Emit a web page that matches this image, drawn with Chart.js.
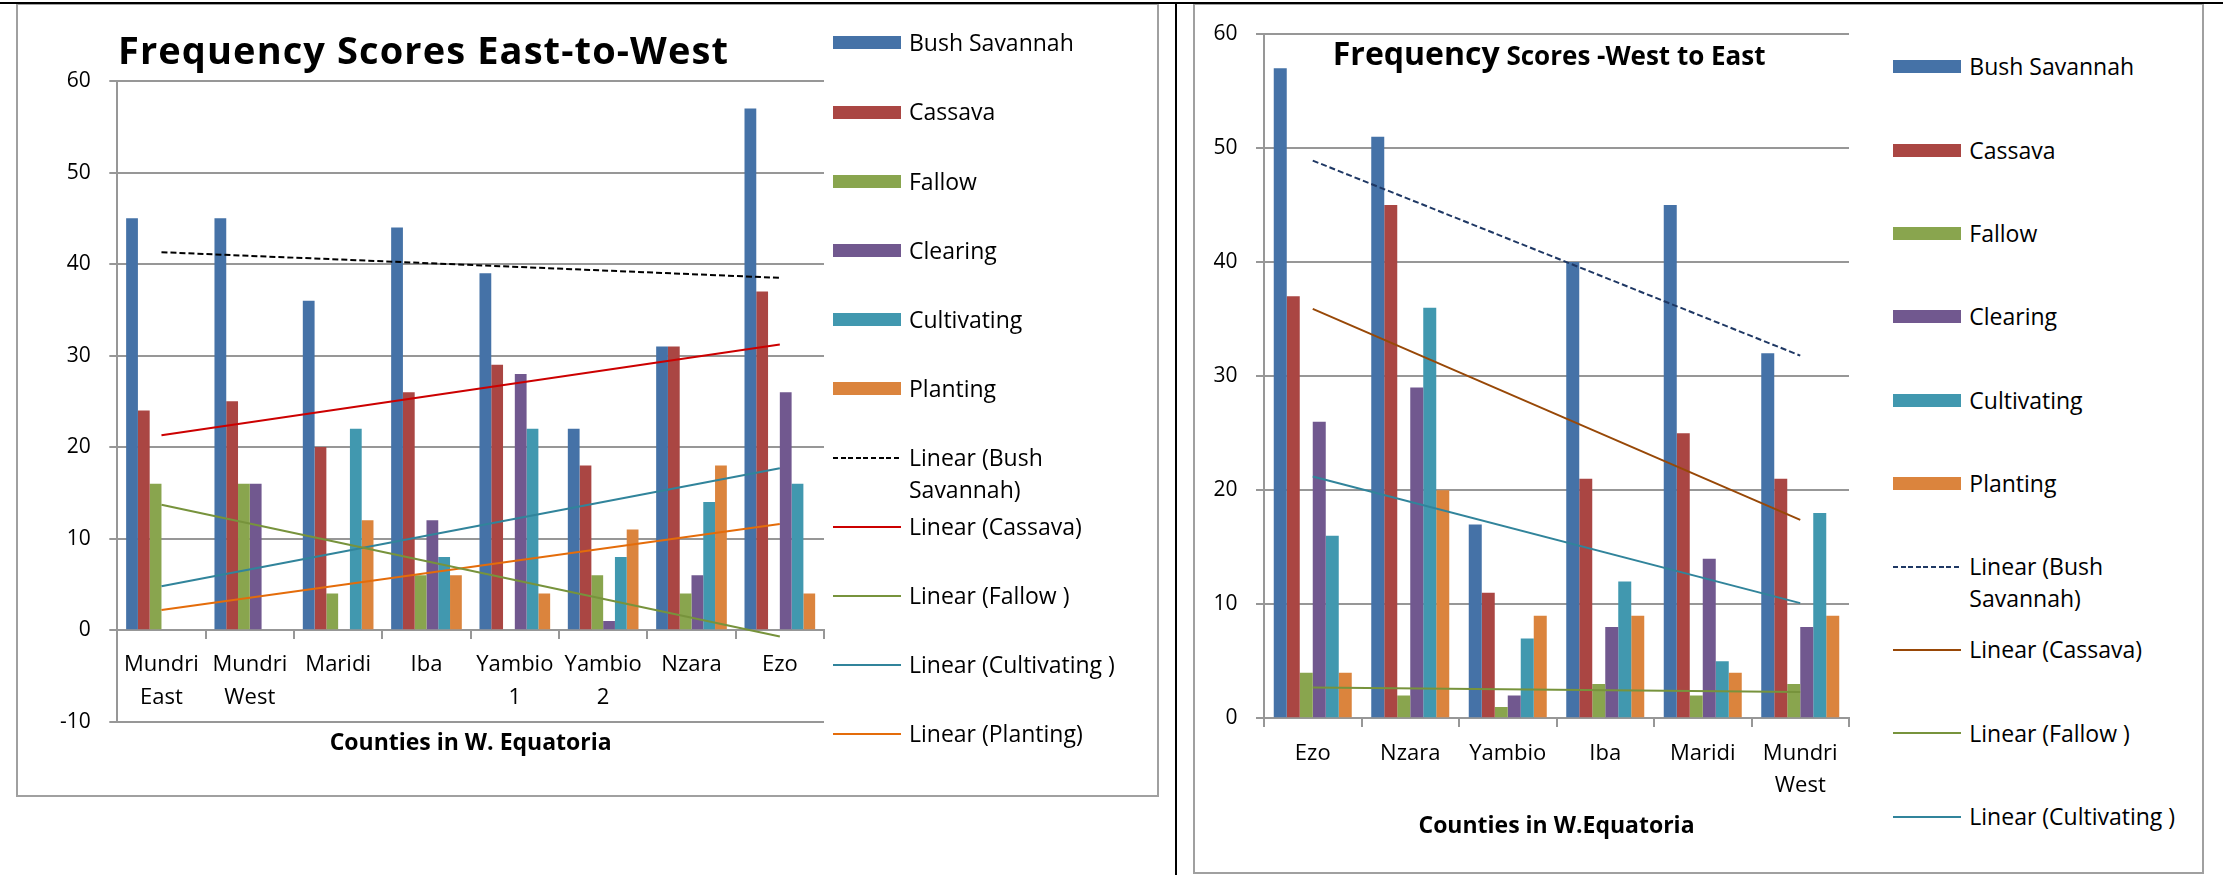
<!DOCTYPE html>
<html>
<head>
<meta charset="utf-8">
<script src="https://cdn.jsdelivr.net/npm/chart.js@4.4.1/dist/chart.umd.min.js"></script>
<style>
  html, body { margin: 0; padding: 0; background: #fff; }
  body { width: 2223px; height: 875px; position: relative; overflow: hidden; font-family: 'Open Sans', sans-serif; color: #000; }
  .abs { position: absolute; }
  .box { position: absolute; border: 2px solid #a0a0a0; box-sizing: border-box; }
  .cwrap { position: absolute; }
  .legend { position: absolute; top: 0; width: 330px; height: 875px; }
  .lrow { position: absolute; left: 0; width: 330px; height: 32px; }
  .sw { position: absolute; left: 0; width: 68px; }
  .lt { position: absolute; top: 0; width: 245px; font-size: 23px; line-height: 32px; white-space: normal; }
  .title { position: absolute; font-weight: bold; white-space: nowrap; }
</style>
</head>
<body>
<div class="box" id="boxL" style="left:15.7px; top:3px; width:1143.6px; height:794px;"></div>
<div class="box" id="boxR" style="left:1193px; top:3px; width:1011.3px; height:871.3px;"></div>

<div class="cwrap" style="left:0px; top:0px; width:840px; height:800px;"><canvas id="chartEW"></canvas></div>
<div class="cwrap" style="left:1195px; top:0px; width:665px; height:875px;"><canvas id="chartWE"></canvas></div>

<div class="title" style="left:118px; top:30px; font-size:38px; line-height:38px; letter-spacing:1.1px;">Frequency Scores East-to-West</div>
<div class="title" style="left:1332.8px; top:32.6px; font-size:32px; line-height:40px;"><span>Frequency</span><span style="font-size:26px;"> Scores -West to East</span></div>

<div class="legend" id="legendEW" style="left:832.7px;"></div>
<div class="legend" id="legendWE" style="left:1893.3px;"></div>

<div class="abs" style="left:0; top:2px; width:2223px; height:2px; background:#000;"></div>
<div class="abs" style="left:1174.5px; top:2px; width:2.5px; height:873px; background:#000;"></div>

<script>
// ---------------- DATA: Frequency Scores East-to-West ----------------
const ewCounties = [['Mundri', 'East'], ['Mundri', 'West'], 'Maridi', 'Iba', ['Yambio', '1'], ['Yambio', '2'], 'Nzara', 'Ezo'];
const ewBushSavannah = [45, 45, 36, 44, 39, 22, 31, 57];
const ewCassava      = [24, 25, 20, 26, 29, 18, 31, 37];
const ewFallow       = [16, 16, 4, 6, 0, 6, 4, 0];
const ewClearing     = [0, 16, 0, 12, 28, 1, 6, 26];
const ewCultivating  = [0, 0, 22, 8, 22, 8, 14, 16];
const ewPlanting     = [0, 0, 12, 6, 4, 11, 18, 4];
// trendline end values (first county, last county)
const ewTrendBushSavannah = [41.3, 38.5];
const ewTrendCassava      = [21.3, 31.2];
const ewTrendFallow       = [13.7, -0.7];
const ewTrendCultivating  = [4.8, 17.7];
const ewTrendPlanting     = [2.2, 11.6];
const ewYTicks = [-10, 0, 10, 20, 30, 40, 50, 60];

// ---------------- DATA: Frequency Scores West to East ----------------
const weCounties = ['Ezo', 'Nzara', 'Yambio', 'Iba', 'Maridi', ['Mundri', 'West']];
const weBushSavannah = [57, 51, 17, 40, 45, 32];
const weCassava      = [37, 45, 11, 21, 25, 21];
const weFallow       = [4, 2, 1, 3, 2, 3];
const weClearing     = [26, 29, 2, 8, 14, 8];
const weCultivating  = [16, 36, 7, 12, 5, 18];
const wePlanting     = [4, 20, 9, 9, 4, 9];
const weTrendBushSavannah = [48.9, 31.8];
const weTrendCassava      = [35.9, 17.4];
const weTrendFallow       = [2.7, 2.3];
const weTrendCultivating  = [21.2, 10.1];
const weYTicks = [0, 10, 20, 30, 40, 50, 60];

const seriesNames = ['Bush Savannah', 'Cassava', 'Fallow', 'Clearing', 'Cultivating', 'Planting'];
const trendNames = ['Linear (Bush Savannah)', 'Linear (Cassava)', 'Linear (Fallow )', 'Linear (Cultivating )', 'Linear (Planting)'];

// ---------------- STYLE ----------------
const barColors = ['#4572A7', '#AA4643', '#89A54E', '#71588F', '#4198AF', '#DB843D'];
const GRID = '#979797';
Chart.defaults.font.family = "'Open Sans', sans-serif";
Chart.defaults.color = '#000';

function endpoints(n, pair) {
  const arr = new Array(n).fill(null);
  arr[0] = pair[0];
  arr[n - 1] = pair[1];
  return arr;
}

function buildChart(id, cfg) {
  const n = cfg.labels.length;
  const datasets = [];
  cfg.bars.forEach((vals, i) => datasets.push({
    type: 'bar', label: seriesNames[i], data: vals, backgroundColor: barColors[i],
    borderWidth: 0, categoryPercentage: 0.8, barPercentage: 1.0, order: 2
  }));
  cfg.trends.forEach(t => datasets.push({
    type: 'line', label: t.label, data: endpoints(n, t.data), borderColor: t.color, backgroundColor: t.color,
    borderWidth: 2, borderDash: t.dash || [], pointRadius: 0, spanGaps: true, fill: false, tension: 0, order: 1
  }));
  return new Chart(document.getElementById(id), {
    type: 'bar',
    data: { labels: cfg.labels, datasets },
    options: {
      responsive: true, maintainAspectRatio: false, animation: false, events: [],
      layout: { padding: cfg.padding },
      plugins: { legend: { display: false }, title: { display: false }, tooltip: { enabled: false } },
      scales: {
        x: {
          position: { y: 0 }, offset: true,
          grid: { display: true, drawOnChartArea: false, drawTicks: true, tickLength: 8, color: GRID, lineWidth: 2, offset: true },
          border: { display: true, color: GRID, width: 2 },
          ticks: { font: { size: 22, lineHeight: '32.7px' }, padding: 10.65, maxRotation: 0, minRotation: 0, autoSkip: false, color: '#000' },
          title: { display: true, text: cfg.xTitle, font: { size: 23, weight: 'bold' }, padding: 0, color: '#000' },
          afterFit: s => { s.height = cfg.xAxisHeight; }
        },
        y: {
          min: cfg.yTicks[0], max: cfg.yTicks[cfg.yTicks.length - 1],
          afterBuildTicks: s => { s.ticks = cfg.yTicks.map(v => ({ value: v })); },
          grid: { color: GRID, lineWidth: 2, tickLength: 8 },
          border: { display: true, color: GRID, width: 2 },
          ticks: { font: { size: 21 }, padding: 18.6, color: '#000' },
          afterFit: s => { s.width = cfg.yAxisWidth; }
        }
      }
    }
  });
}

function buildLegend(chart, elId, rowStart, rowStep, textOffset) {
  const el = document.getElementById(elId);
  chart.data.datasets.forEach((ds, i) => {
    const row = document.createElement('div');
    row.className = 'lrow';
    row.style.top = (rowStart + rowStep * i - 16.7) + 'px';
    const sw = document.createElement('div');
    sw.className = 'sw';
    if (ds.type === 'line') {
      sw.style.top = '15.7px';
      sw.style.height = '2px';
      sw.style.background = (ds.borderDash && ds.borderDash.length)
        ? 'repeating-linear-gradient(to right, ' + ds.borderColor + ' 0 5px, transparent 5px 7.6px)'
        : ds.borderColor;
    } else {
      sw.style.top = '10.2px';
      sw.style.height = '13px';
      sw.style.background = ds.backgroundColor;
    }
    const tx = document.createElement('div');
    tx.className = 'lt';
    tx.style.left = textOffset + 'px';
    tx.textContent = ds.label;
    row.appendChild(sw);
    row.appendChild(tx);
    el.appendChild(row);
  });
}

const chartEW = buildChart('chartEW', {
  labels: ewCounties,
  bars: [ewBushSavannah, ewCassava, ewFallow, ewClearing, ewCultivating, ewPlanting],
  trends: [
    { label: trendNames[0], data: ewTrendBushSavannah, color: '#000000', dash: [6, 3] },
    { label: trendNames[1], data: ewTrendCassava, color: '#CC0000' },
    { label: trendNames[2], data: ewTrendFallow, color: '#77933C' },
    { label: trendNames[3], data: ewTrendCultivating, color: '#31849B' },
    { label: trendNames[4], data: ewTrendPlanting, color: '#E46C0A' }
  ],
  yTicks: ewYTicks,
  xTitle: 'Counties in W. Equatoria',
  padding: { top: 81, right: 16, bottom: 78.3, left: 0 },
  yAxisWidth: 117.3,
  xAxisHeight: 127.1
});

const chartWE = buildChart('chartWE', {
  labels: weCounties,
  bars: [weBushSavannah, weCassava, weFallow, weClearing, weCultivating, wePlanting],
  trends: [
    { label: trendNames[0], data: weTrendBushSavannah, color: '#1F3864', dash: [6, 3] },
    { label: trendNames[1], data: weTrendCassava, color: '#984807' },
    { label: trendNames[2], data: weTrendFallow, color: '#77933C' },
    { label: trendNames[3], data: weTrendCultivating, color: '#31849B' }
  ],
  yTicks: weYTicks,
  xTitle: 'Counties in W.Equatoria',
  padding: { top: 34, right: 11, bottom: 156.7, left: 0 },
  yAxisWidth: 69,
  xAxisHeight: 122.2
});

buildLegend(chartEW, 'legendEW', 43, 69.1, 76.3);
buildLegend(chartWE, 'legendWE', 67, 83.3, 76);
</script>
</body>
</html>
